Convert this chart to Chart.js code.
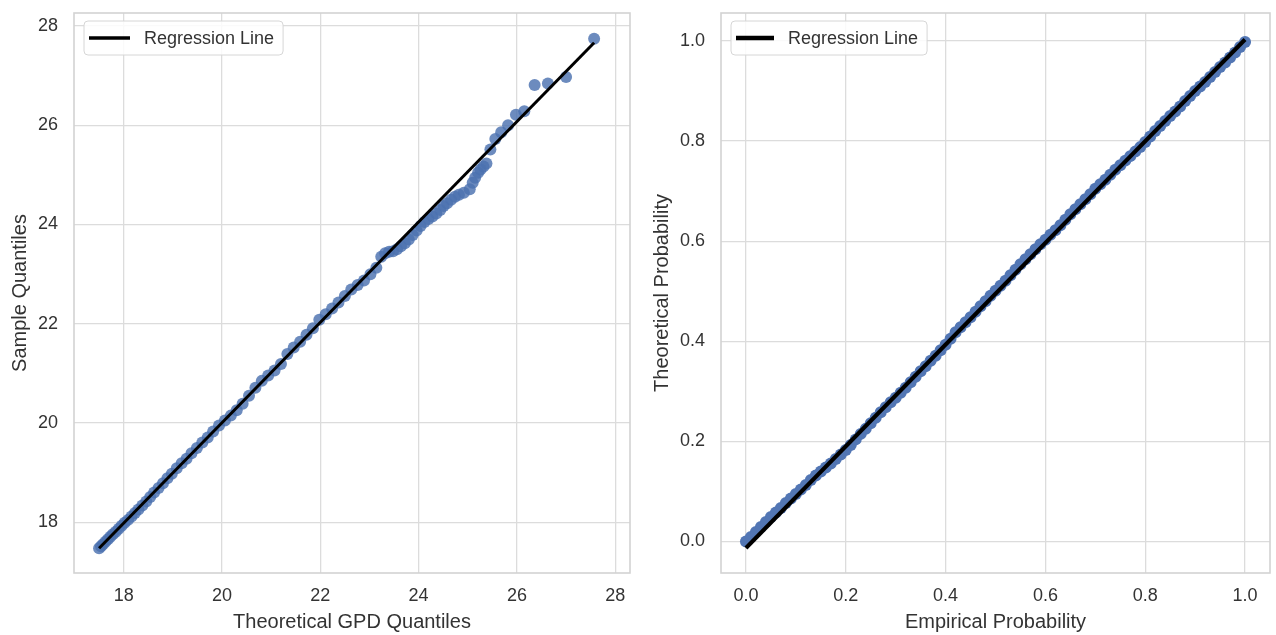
<!DOCTYPE html>
<html>
<head>
<meta charset="utf-8">
<script src="https://cdn.jsdelivr.net/npm/chart.js@4.4.1/dist/chart.umd.min.js"></script>
<style>
  html, body { margin: 0; padding: 0; background: #ffffff; width: 1276px; height: 635px; overflow: hidden; }
  .box { position: absolute; top: 0; height: 635px; width: 638px; }
  #b1 { left: 0; }
  #b2 { left: 638px; }
</style>
</head>
<body>
<div class="box" id="b1"><canvas id="c1" width="638" height="635"></canvas></div>
<div class="box" id="b2"><canvas id="c2" width="638" height="635"></canvas></div>
<script>
// ---------- Data: Q-Q plot (left) ----------
const qqTheoretical = [17.50, 17.54, 17.58, 17.63, 17.68, 17.73, 17.78, 17.84, 17.90, 17.96,
  18.02, 18.09, 18.16, 18.23, 18.30, 18.38, 18.46, 18.54, 18.62, 18.71,
  18.80, 18.89, 18.98, 19.08, 19.18, 19.28, 19.38, 19.49, 19.60, 19.71,
  19.82, 19.94, 20.06, 20.18, 20.30, 20.42, 20.55, 20.68, 20.81, 20.94,
  21.07, 21.20, 21.33, 21.46, 21.59, 21.72, 21.85, 21.98, 22.11, 22.24,
  22.37, 22.50, 22.63, 22.76, 22.89, 23.02, 23.14, 23.24, 23.32, 23.40,
  23.48, 23.56, 23.64, 23.72, 23.80, 23.88, 23.96, 24.04, 24.12, 24.20,
  24.28, 24.36, 24.44, 24.51, 24.58, 24.66, 24.74, 24.82, 24.92, 25.04,
  25.10, 25.15, 25.21, 25.26, 25.32, 25.38, 25.46, 25.56, 25.68, 25.82,
  25.98, 26.15, 26.36, 26.63, 27.00, 27.57];
const qqSample = [17.48, 17.52, 17.56, 17.61, 17.66, 17.71, 17.76, 17.81, 17.87, 17.93,
  17.99, 18.05, 18.12, 18.19, 18.26, 18.34, 18.42, 18.51, 18.60, 18.69,
  18.79, 18.89, 18.98, 19.09, 19.19, 19.28, 19.39, 19.50, 19.61, 19.71,
  19.83, 19.95, 20.05, 20.15, 20.26, 20.39, 20.55, 20.71, 20.85, 20.96,
  21.06, 21.19, 21.39, 21.52, 21.64, 21.78, 21.91, 22.08, 22.19, 22.31,
  22.43, 22.56, 22.69, 22.78, 22.87, 23.00, 23.13, 23.35, 23.42, 23.45,
  23.46, 23.50, 23.56, 23.62, 23.70, 23.79, 23.88, 23.97, 24.05, 24.11,
  24.16, 24.22, 24.29, 24.37, 24.43, 24.50, 24.56, 24.60, 24.64, 24.71,
  24.84, 24.94, 25.04, 25.11, 25.17, 25.23, 25.51, 25.72, 25.86, 26.00,
  26.21, 26.28, 26.81, 26.84, 26.97, 27.74];
const qqLineX = [17.50, 27.57];
const qqLineY = [17.48, 27.66];
const qqTicks = [18, 20, 22, 24, 26, 28];

// ---------- Data: P-P plot (right) ----------
const ppEmpirical = [0.00, 0.01, 0.02, 0.03, 0.04, 0.05, 0.06, 0.07, 0.08, 0.09,
  0.10, 0.11, 0.12, 0.13, 0.14, 0.15, 0.16, 0.17, 0.18, 0.19,
  0.20, 0.21, 0.22, 0.23, 0.24, 0.25, 0.26, 0.27, 0.28, 0.29,
  0.30, 0.31, 0.32, 0.33, 0.34, 0.35, 0.36, 0.37, 0.38, 0.39,
  0.40, 0.41, 0.42, 0.43, 0.44, 0.45, 0.46, 0.47, 0.48, 0.49,
  0.50, 0.51, 0.52, 0.53, 0.54, 0.55, 0.56, 0.57, 0.58, 0.59,
  0.60, 0.61, 0.62, 0.63, 0.64, 0.65, 0.66, 0.67, 0.68, 0.69,
  0.70, 0.71, 0.72, 0.73, 0.74, 0.75, 0.76, 0.77, 0.78, 0.79,
  0.80, 0.81, 0.82, 0.83, 0.84, 0.85, 0.86, 0.87, 0.88, 0.89,
  0.90, 0.91, 0.92, 0.93, 0.94, 0.95, 0.96, 0.97, 0.98, 0.99, 1.00];
const ppTheoretical = [0.000, 0.009, 0.019, 0.029, 0.039, 0.049, 0.058, 0.067, 0.077, 0.086,
  0.095, 0.104, 0.113, 0.123, 0.132, 0.140, 0.148, 0.156, 0.165, 0.174,
  0.183, 0.193, 0.204, 0.215, 0.225, 0.236, 0.247, 0.258, 0.268, 0.278,
  0.287, 0.297, 0.307, 0.318, 0.329, 0.340, 0.350, 0.361, 0.371, 0.382,
  0.393, 0.405, 0.418, 0.428, 0.438, 0.448, 0.459, 0.470, 0.480, 0.491,
  0.501, 0.511, 0.521, 0.532, 0.543, 0.554, 0.564, 0.574, 0.584, 0.594,
  0.603, 0.613, 0.622, 0.632, 0.643, 0.654, 0.664, 0.674, 0.684, 0.694,
  0.705, 0.714, 0.723, 0.733, 0.743, 0.752, 0.761, 0.770, 0.779, 0.788,
  0.798, 0.809, 0.820, 0.830, 0.840, 0.850, 0.859, 0.869, 0.880, 0.890,
  0.900, 0.909, 0.918, 0.928, 0.938, 0.948, 0.957, 0.967, 0.977, 0.988, 0.998];
const ppLineX = [0.0, 1.0];
const ppLineY = [-0.013, 1.003];
const ppTicks = [0.0, 0.2, 0.4, 0.6, 0.8, 1.0];

const legendLabel = 'Regression Line';

// ---------- Styling helpers ----------
const FONT = '"Liberation Sans", Arial, Helvetica, sans-serif';
const TEXT = '#333333';
const GRID = '#dcdcdc';

function pairs(xs, ys) { return xs.map((x, i) => ({ x: x, y: ys[i] })); }

const framePlugin = {
  id: 'frame',
  beforeDatasetsDraw(chart) {
    const a = chart.chartArea, ctx = chart.ctx;
    ctx.save();
    ctx.strokeStyle = '#d3d3d3';
    ctx.lineWidth = 1.6;
    ctx.strokeRect(a.left, a.top, a.right - a.left, a.bottom - a.top);
    ctx.restore();
  }
};

const legendBoxPlugin = {
  id: 'legendBox',
  afterDatasetsDraw(chart, args, opts) {
    const ds = chart.data.datasets.find(d => d.showLine);
    if (!ds) return;
    const ctx = chart.ctx, a = chart.chartArea;
    ctx.save();
    ctx.font = '18px ' + FONT;
    const tw = ctx.measureText(ds.label).width;
    const x = a.left + 10, y = a.top + 8, h = 34;
    const w = opts.textOffset + tw + 9;
    const r = 4;
    ctx.beginPath();
    ctx.moveTo(x + r, y);
    ctx.lineTo(x + w - r, y);
    ctx.quadraticCurveTo(x + w, y, x + w, y + r);
    ctx.lineTo(x + w, y + h - r);
    ctx.quadraticCurveTo(x + w, y + h, x + w - r, y + h);
    ctx.lineTo(x + r, y + h);
    ctx.quadraticCurveTo(x, y + h, x, y + h - r);
    ctx.lineTo(x, y + r);
    ctx.quadraticCurveTo(x, y, x + r, y);
    ctx.closePath();
    ctx.fillStyle = 'rgba(255,255,255,0.85)';
    ctx.fill();
    ctx.strokeStyle = '#d6d6d6';
    ctx.lineWidth = 1;
    ctx.stroke();
    ctx.beginPath();
    ctx.moveTo(x + 5, y + h / 2);
    ctx.lineTo(x + opts.lineLen, y + h / 2);
    ctx.strokeStyle = ds.borderColor;
    ctx.lineWidth = ds.borderWidth + 0.5;
    ctx.lineCap = 'butt';
    ctx.stroke();
    ctx.fillStyle = TEXT;
    ctx.textBaseline = 'middle';
    ctx.textAlign = 'left';
    ctx.fillText(ds.label, x + opts.textOffset, y + h / 2 + 1);
    ctx.restore();
  }
};

function noPad(s) { s.paddingTop = 0; s.paddingBottom = 0; s.paddingLeft = 0; s.paddingRight = 0; }

function makeChart(canvasId, cfg) {
  return new Chart(document.getElementById(canvasId), {
    type: 'scatter',
    data: {
      datasets: [
        {
          label: legendLabel,
          data: pairs(cfg.lineX, cfg.lineY),
          showLine: true,
          borderColor: '#000000',
          backgroundColor: '#000000',
          borderWidth: cfg.lineWidth,
          pointRadius: 0,
          pointHoverRadius: 0
        },
        {
          label: 'data',
          data: pairs(cfg.px, cfg.py),
          showLine: false,
          backgroundColor: cfg.pointColor,
          borderWidth: 0,
          pointRadius: cfg.pointRadius,
          pointHoverRadius: cfg.pointRadius
        }
      ]
    },
    options: {
      responsive: false,
      animation: false,
      devicePixelRatio: 1,
      layout: { padding: cfg.padding },
      plugins: {
        legend: { display: false },
        tooltip: { enabled: false },
        legendBox: { textOffset: cfg.textOffset, lineLen: cfg.lineLen }
      },
      scales: {
        x: {
          type: 'linear',
          min: cfg.xMin, max: cfg.xMax,
          afterBuildTicks: s => { s.ticks = cfg.ticksX.map(v => ({ value: v })); },
          afterFit: s => { s.height = 62; noPad(s); },
          grid: { color: GRID, lineWidth: 1.3, drawTicks: false },
          border: { display: false },
          ticks: {
            padding: 12, color: TEXT, font: { family: FONT, size: 18 },
            maxRotation: 0, autoSkip: false,
            callback: v => cfg.fmt(v)
          },
          title: {
            display: true, text: cfg.xTitle, color: TEXT,
            font: { family: FONT, size: 20 }, padding: { top: 0, bottom: 1 }
          }
        },
        y: {
          type: 'linear',
          min: cfg.yMin, max: cfg.yMax,
          afterBuildTicks: s => { s.ticks = cfg.ticksY.map(v => ({ value: v })); },
          afterFit: s => { s.width = cfg.yAxisWidth; noPad(s); },
          grid: { color: GRID, lineWidth: 1.3, drawTicks: false },
          border: { display: false },
          ticks: {
            padding: 16, color: TEXT, font: { family: FONT, size: 18 },
            autoSkip: false,
            callback: v => cfg.fmt(v)
          },
          title: {
            display: true, text: cfg.yTitle, color: TEXT,
            font: { family: FONT, size: 20 }, padding: { top: cfg.yTitlePad, bottom: 0 }
          }
        }
      }
    },
    plugins: [framePlugin, legendBoxPlugin]
  });
}

makeChart('c1', {
  px: qqTheoretical, py: qqSample, lineX: qqLineX, lineY: qqLineY,
  ticksX: qqTicks, ticksY: qqTicks,
  xMin: 16.99, xMax: 28.3, yMin: 16.98, yMax: 28.26,
  fmt: v => String(v),
  xTitle: 'Theoretical GPD Quantiles', yTitle: 'Sample Quantiles',
  padding: { left: 0, right: 8, top: 13, bottom: 0 },
  yAxisWidth: 74, yTitlePad: 8,
  lineWidth: 3, pointRadius: 6, pointColor: 'rgba(76,114,176,0.82)',
  textOffset: 60, lineLen: 46
});

makeChart('c2', {
  px: ppEmpirical, py: ppTheoretical, lineX: ppLineX, lineY: ppLineY,
  ticksX: ppTicks, ticksY: ppTicks,
  xMin: -0.05, xMax: 1.05, yMin: -0.063, yMax: 1.056,
  fmt: v => Number(v).toFixed(1),
  xTitle: 'Empirical Probability', yTitle: 'Theoretical Probability',
  padding: { left: 0, right: 1, top: 13, bottom: 0 },
  yAxisWidth: 83, yTitlePad: 12,
  lineWidth: 4, pointRadius: 6, pointColor: 'rgb(82,118,180)',
  textOffset: 57, lineLen: 43
});
</script>
</body>
</html>
